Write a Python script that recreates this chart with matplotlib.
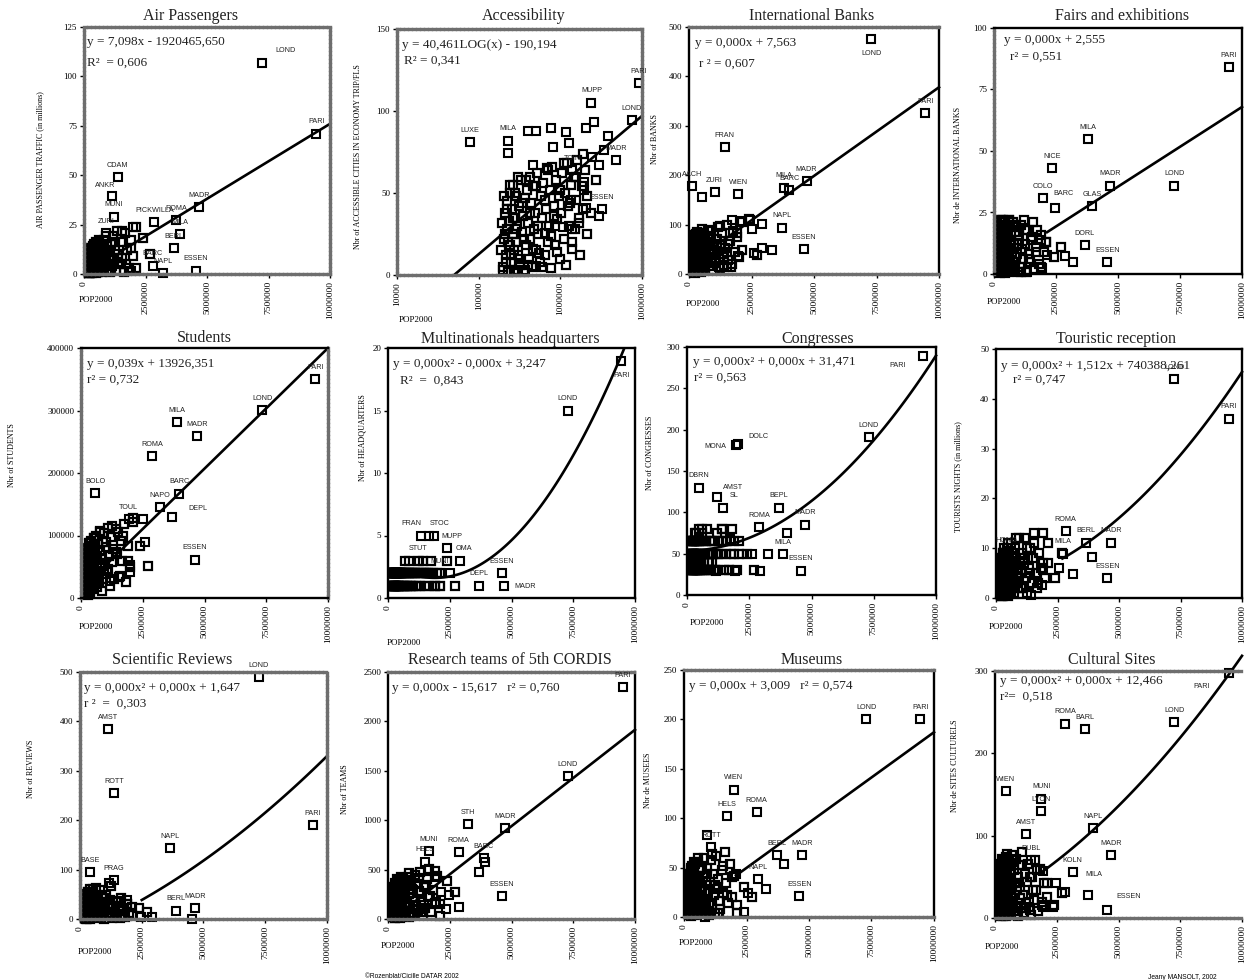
import numpy as np
import matplotlib
matplotlib.use('Agg')
import matplotlib.pyplot as plt

W, H = 1245, 980
SERIF = 'Liberation Serif'
SANS = 'Liberation Sans'

# cities without a label, population in thousands (same for every panel)
POP_K = [200, 205, 210, 215, 220, 225, 230, 235, 240, 245,
         250, 255, 260, 265, 270, 275, 280, 285, 290, 295,
         300, 310, 320, 330, 340, 350, 360, 370, 380, 390,
         400, 410, 420, 430, 440, 450, 465, 480, 495, 510,
         525, 540, 560, 580, 600, 620, 640, 660, 680, 700,
         725, 750, 775, 800, 830, 860, 890, 920, 950, 980,
         1020, 1060, 1100, 1140, 1180, 1220, 1260, 1300, 1350, 1400,
         1450, 1500, 1560, 1620, 1680, 1750, 1820, 1900, 2000, 2100,
         190, 195, 200, 205, 210, 215, 220, 230, 240, 250,
         260, 270, 280, 290, 300, 320, 340, 360, 380, 400,
         430, 460, 500, 540, 590, 640, 700, 760, 830, 900,
         1000, 1100, 1250, 1400, 1550, 1700, 1900, 2100, 2400, 2700]

AIR_Y = [1, 5, 0.5, 8, 2, 12, 3, 6, 1, 9,
         4, 0.5, 7, 2, 10, 5, 1, 13, 3, 6,
         2, 9, 0.5, 5, 11, 1, 7, 3, 14, 4,
         8, 1, 6, 12, 2, 10, 4, 0.5, 16, 7,
         3, 9, 1, 13, 5, 2, 15, 7, 11, 4,
         1, 10, 6, 17, 3, 12, 8, 2, 14, 5,
         9, 1, 15, 4, 19, 7, 12, 2, 22, 10,
         5, 16, 8, 1, 21, 12, 3, 17, 9, 24,
         3, 0.5, 6, 2, 9, 1, 4, 7, 2, 11,
         0.5, 5, 8, 3, 13, 1, 6, 10, 2, 15,
         4, 12, 7, 1, 17, 9, 3, 14, 6, 19,
         11, 2, 16, 8, 22, 5, 13, 3, 18, 10]
ACCESS_Y = [5, 22, 38, 12, 45, 28, 2, 33, 50, 18,
            8, 40, 25, 55, 15, 3, 35, 48, 20, 30,
            12, 42, 6, 58, 26, 36, 2, 47, 18, 52,
            32, 10, 60, 22, 44, 5, 54, 28, 38, 15,
            62, 25, 8, 48, 35, 56, 12, 40, 65, 20,
            30, 52, 4, 66, 42, 18, 58, 34, 48, 10,
            38, 62, 22, 50, 6, 68, 30, 44, 55, 16,
            60, 28, 46, 70, 35, 12, 54, 40, 64, 25,
            15, 32, 3, 48, 25, 8, 40, 20, 55, 12,
            35, 2, 50, 28, 60, 10, 44, 22, 58, 6,
            38, 16, 54, 30, 5, 46, 64, 24, 36, 14,
            52, 68, 42, 20, 60, 32, 74, 48, 38, 58]
BANKS_Y = [45, 20, 60, 30, 5, 70, 40, 15, 55, 35,
           25, 65, 10, 50, 80, 30, 42, 18, 58, 6,
           38, 72, 22, 48, 12, 62, 32, 78, 8, 52,
           18, 44, 66, 28, 84, 36, 14, 56, 4, 74,
           30, 60, 20, 82, 46, 10, 68, 38, 54, 24,
           64, 34, 90, 16, 50, 76, 28, 42, 8, 58,
           22, 70, 46, 96, 32, 12, 60, 84, 40, 18,
           52, 100, 28, 66, 15, 88, 44, 74, 34, 105,
           30, 55, 10, 70, 40, 20, 62, 3, 48, 78,
           15, 35, 66, 25, 85, 8, 52, 42, 72, 18,
           60, 32, 92, 12, 46, 76, 28, 58, 88, 22,
           40, 70, 98, 34, 60, 20, 82, 48, 112, 38]
FAIRS_Y = [3, 12, 1, 18, 6, 21, 2, 9, 15, 0.5,
           7, 19, 4, 13, 1, 22, 10, 16, 3, 8,
           14, 1, 20, 5, 11, 17, 2, 22, 8, 12,
           4, 16, 9, 21, 0.5, 13, 6, 19, 2, 11,
           18, 7, 1, 15, 22, 4, 10, 20, 3, 13,
           9, 21, 5, 12, 17, 2, 19, 8, 14, 1,
           16, 3, 20, 10, 6, 22, 12, 1, 18, 8,
           5, 14, 21, 2, 11, 18, 4, 16, 9, 13,
           2, 10, 16, 5, 20, 1, 13, 7, 22, 4,
           11, 18, 3, 9, 21, 6, 15, 1, 12, 19,
           8, 2, 17, 10, 22, 5, 14, 3, 20, 7,
           12, 1, 18, 6, 15, 9, 3, 13, 7, 11]
STUDENTS_Y = [25000, 40000, 10000, 55000, 30000, 65000, 18000, 48000, 35000, 72000,
              12000, 58000, 28000, 80000, 42000, 20000, 68000, 5000, 50000, 32000,
              38000, 75000, 15000, 60000, 88000, 26000, 46000, 70000, 8000, 54000,
              66000, 22000, 92000, 36000, 52000, 78000, 14000, 44000, 84000, 30000,
              56000, 96000, 24000, 72000, 40000, 100000, 18000, 62000, 86000, 34000,
              28000, 76000, 108000, 48000, 64000, 12000, 90000, 38000, 104000, 54000,
              82000, 44000, 112000, 68000, 20000, 98000, 58000, 78000, 30000, 110000,
              70000, 105000, 36000, 92000, 60000, 118000, 26000, 84000, 50000, 128000,
              20000, 50000, 8000, 36000, 62000, 15000, 45000, 28000, 70000, 10000,
              55000, 32000, 78000, 18000, 42000, 66000, 24000, 88000, 12000, 58000,
              34000, 82000, 48000, 96000, 22000, 68000, 38000, 106000, 56000, 30000,
              90000, 46000, 115000, 74000, 34000, 100000, 60000, 122000, 84000, 52000]
MULTI_Y = [2, 1, 2, 2, 1, 2, 1, 2, 2, 1,
           2, 2, 1, 2, 2, 1, 2, 2, 1, 2,
           1, 2, 2, 1, 2, 2, 2, 1, 2, 2,
           2, 1, 2, 2, 1, 2, 2, 1, 2, 2,
           1, 2, 2, 2, 1, 2, 1, 2, 2, 1,
           2, 2, 1, 2, 2, 3, 1, 2, 1, 2,
           1, 2, 2, 1, 2, 2, 3, 1, 2, 2,
           2, 1, 2, 2, 1, 3, 2, 1, 2, 1,
           2, 2, 1, 2, 1, 2, 2, 1, 2, 2,
           1, 2, 2, 1, 2, 2, 1, 2, 2, 1,
           2, 1, 2, 2, 1, 2, 3, 1, 2, 1,
           2, 2, 1, 3, 2, 2, 1, 2, 3, 1]
CONGRESS_Y = [50, 30, 65, 50, 40, 30, 50, 65, 30, 50,
              40, 50, 30, 65, 50, 30, 40, 50, 65, 30,
              50, 65, 30, 50, 40, 75, 30, 50, 65, 40,
              30, 50, 65, 40, 30, 50, 80, 30, 65, 50,
              65, 30, 50, 40, 75, 30, 65, 50, 30, 40,
              50, 65, 30, 80, 50, 40, 30, 65, 50, 30,
              40, 50, 65, 30, 50, 75, 30, 65, 50, 80,
              65, 30, 50, 65, 30, 50, 80, 65, 30, 50,
              50, 65, 30, 50, 30, 65, 40, 50, 30, 65,
              50, 30, 40, 65, 50, 30, 75, 50, 65, 30,
              40, 50, 65, 30, 80, 50, 30, 65, 50, 40,
              65, 30, 50, 80, 65, 30, 50, 65, 50, 30]
TOURIST_Y = [3, 1, 5, 2, 7, 4, 1, 6, 3, 8,
             2, 5, 0.5, 7, 3, 9, 4, 1, 6, 2,
             5, 1, 8, 3, 6, 2, 9, 4, 1, 7,
             3, 6, 1, 10, 4, 2, 8, 5, 0.5, 7,
             9, 2, 5, 1, 7, 11, 3, 6, 4, 8,
             1, 6, 10, 3, 8, 5, 2, 12, 4, 7,
             5, 9, 2, 7, 12, 4, 1, 8, 6, 10,
             3, 8, 11, 5, 2, 9, 6, 13, 4, 7,
             1, 4, 2, 6, 0.5, 8, 3, 5, 1, 7,
             2, 9, 4, 0.5, 6, 3, 10, 1, 5, 8,
             2, 7, 11, 4, 1, 9, 5, 3, 12, 6,
             2, 8, 10, 5, 13, 3, 7, 11, 4, 9]
REVIEWS_Y = [10, 30, 2, 22, 45, 5, 15, 35, 1, 25,
             18, 40, 8, 28, 3, 50, 12, 32, 20, 6,
             35, 2, 24, 55, 14, 38, 7, 27, 44, 1,
             12, 30, 60, 4, 20, 42, 9, 33, 16, 52,
             26, 5, 46, 18, 36, 2, 62, 22, 10, 40,
             8, 32, 14, 58, 24, 4, 44, 16, 35, 1,
             20, 48, 6, 30, 12, 38, 66, 3, 26, 14,
             34, 10, 22, 2, 42, 18, 5, 30, 12, 24,
             15, 2, 28, 8, 40, 20, 4, 32, 12, 48,
             6, 24, 36, 1, 18, 55, 10, 30, 44, 3,
             22, 38, 14, 60, 5, 28, 48, 9, 34, 18,
             42, 12, 26, 4, 36, 16, 30, 8, 22, 14]
TEAMS_Y = [120, 40, 250, 80, 180, 20, 300, 60, 150, 220,
           30, 200, 100, 330, 160, 10, 270, 70, 230, 130,
           280, 50, 170, 90, 350, 20, 210, 130, 310, 60,
           100, 240, 30, 380, 150, 290, 70, 200, 10, 340,
           180, 60, 310, 110, 400, 230, 40, 270, 130, 360,
           80, 330, 160, 430, 20, 250, 120, 390, 60, 300,
           210, 50, 450, 140, 350, 90, 280, 480, 170, 40,
           320, 110, 400, 220, 510, 70, 290, 160, 440, 30,
           60, 200, 20, 140, 280, 100, 30, 240, 170, 70,
           320, 10, 210, 120, 360, 50, 260, 150, 400, 90,
           30, 300, 190, 430, 80, 240, 370, 130, 470, 40,
           290, 180, 420, 100, 340, 230, 490, 150, 380, 270]
MUSEUMS_Y = [12, 30, 4, 22, 38, 8, 18, 44, 2, 27,
             34, 6, 20, 48, 14, 1, 28, 40, 10, 24,
             3, 36, 16, 52, 26, 8, 42, 20, 32, 12,
             46, 10, 30, 2, 24, 54, 16, 38, 6, 28,
             18, 42, 56, 8, 34, 22, 48, 4, 30, 14,
             26, 6, 40, 60, 16, 36, 10, 50, 24, 2,
             32, 58, 12, 44, 22, 4, 62, 28, 38, 16,
             8, 48, 24, 66, 34, 14, 54, 20, 42, 4,
             20, 6, 34, 14, 44, 2, 26, 10, 38, 18,
             50, 4, 30, 22, 46, 8, 36, 16, 56, 12,
             28, 42, 6, 60, 20, 34, 50, 10, 26, 44,
             14, 64, 32, 4, 52, 22, 40, 12, 30, 20]
SITES_Y = [30, 8, 45, 18, 60, 12, 38, 3, 52, 24,
           10, 42, 26, 66, 5, 34, 56, 16, 48, 20,
           62, 14, 36, 4, 50, 28, 70, 8, 44, 22,
           6, 54, 32, 74, 18, 40, 2, 60, 26, 12,
           46, 20, 68, 10, 36, 56, 4, 30, 76, 16,
           24, 58, 8, 42, 72, 14, 34, 50, 2, 64,
           38, 12, 80, 28, 6, 54, 18, 44, 66, 10,
           4, 50, 22, 70, 34, 8, 60, 16, 42, 26,
           16, 40, 4, 56, 24, 10, 48, 32, 66, 6,
           20, 58, 36, 12, 72, 2, 44, 26, 62, 14,
           50, 8, 78, 30, 18, 54, 38, 70, 4, 42,
           24, 64, 12, 50, 34, 58, 20, 42, 16, 30]

# named cities, x in millions of inhabitants
AIR_NAMES = ['LOND', 'PARI', 'MADR', 'CDAM', 'ANKR', 'ESSEN', 'PICKWILLA', 'ROMA', 'MILA', 'BERL', 'NAPL', '', 'BARC', '', 'MUNI', '', 'ZURI']
AIR_X = [7.25, 9.45, 4.68, 1.37, 1.15, 4.55, 2.86, 3.75, 3.9, 3.66, 3.2, 1.9, 2.8, 1, 1.2, 2, 0.9]
AIR_V = [107, 71, 33.7, 48.9, 39.4, 1.7, 26.4, 27.3, 20, 13, 0.3, 1.7, 4.2, 0.8, 29, 24, 20.5]

ACCESS_NAMES = ['PARI', 'LOND', 'MUPP', 'LUXE', 'MILA', '', '', '', '', '', '', '', '', '', '', '', 'MADR', '', '', '', 'TOIN', '', '', 'ESSEN', '', '', '', '', '', '', '', '', '', '', '']
ACCESS_X = [9.2, 7.5, 2.4, 0.079, 0.23, 0.23, 0.4, 0.51, 0.76, 1.18, 0.46, 0.81, 1.27, 2.05, 2.57, 3.8, 4.8, 2.45, 2.95, 3.4, 1.4, 1.95, 1.95, 3.2, 2.95, 2.05, 1.35, 1.07, 1.4, 0.85, 0.51, 0.37, 0.3, 0.65, 0.55]
ACCESS_V = [117, 94.3, 105, 81, 82, 74.4, 88, 88, 89.6, 87, 67, 78, 80.5, 89.6, 93, 84.5, 70, 72, 67, 76, 64, 57, 52, 40, 36, 41, 46, 29, 28, 30, 5.7, 2.8, 2.8, 25.6, 13.4]

BANKS_NAMES = ['LOND', 'PARI', 'FRAN', 'MILA', 'BARC', 'MADR', 'ESSEN', 'NAPL', '', '', '', '', '', 'WIEN', 'ZURI', 'AACH', '', '', '', '', '', '', '']
BANKS_X = [7.28, 9.45, 1.42, 3.8, 4.0, 4.7, 4.6, 3.7, 2.9, 2.5, 2.44, 2.05, 1.73, 1.97, 1.02, 0.13, 0.5, 2.9, 2.6, 1.97, 3.3, 1.5, 1.18]
BANKS_V = [476, 325, 257, 175, 170, 188, 50, 94, 101, 91, 110, 108, 110, 161, 166, 178, 155, 52, 42, 36, 48, 15, 15]

FAIRS_NAMES = ['PARI', 'MILA', 'NICE', 'COLO', 'BARC', 'MADR', 'LOND', 'GLAS', 'DORL', '', 'ESSEN', '', '', '', '', '', '']
FAIRS_X = [9.48, 3.78, 2.33, 1.98, 2.46, 4.68, 7.27, 3.97, 3.65, 3.2, 4.57, 2.86, 2.14, 1.95, 1.9, 0.63, 1.35]
FAIRS_V = [84, 54.9, 43, 30.9, 26.8, 35.9, 35.9, 27.5, 11.7, 4.7, 4.7, 7.2, 7.9, 2.4, 13.7, 20, 1]

STUDENTS_NAMES = ['PARI', 'LOND', 'MADR', 'MILA', 'ROMA', 'BOLO', 'BARC', 'NAPO', 'DEPL', 'ESSEN', 'TOUL', '', '', '', '', '']
STUDENTS_X = [9.49, 7.34, 4.71, 3.87, 2.88, 0.58, 3.97, 3.2, 3.7, 4.6, 1.93, 2.5, 2.6, 2.0, 1.98, 1.19]
STUDENTS_V = [350000, 301000, 259000, 281000, 227000, 168000, 167000, 145000, 129000, 61500, 126000, 127000, 90000, 53000, 41000, 28000]

MULTI_NAMES = ['PARI', 'LOND', 'FRAN', 'STOC', 'MUPP', 'OMA', 'STUT', 'MUNI', 'ESSEN', 'DEPL', 'MADR', '', '']
MULTI_X = [9.45, 7.27, 1.32, 1.65, 1.85, 2.4, 1.2, 2.9, 4.6, 3.67, 4.7, 2.1, 2.5]
MULTI_V = [19, 15, 5, 5, 5, 4, 3, 3, 2, 1, 1, 1, 2]

CONGRESS_NAMES = ['PARI', 'LOND', 'MONA', 'DOLC', 'DBRN', 'AMST', 'SL', 'BEPL', 'ROMA', '', 'MADR', 'MILA', '', '', '', '', 'ESSEN', '', '', '', '']
CONGRESS_X = [9.48, 7.3, 1.97, 2.05, 0.47, 1.2, 1.45, 3.68, 2.89, 4.0, 4.74, 3.87, 3.24, 2.6, 2.2, 2.92, 4.58, 1.94, 1.18, 1.74, 0.5]
CONGRESS_V = [289, 191, 181, 183, 130, 118, 105.5, 105.5, 82, 74.5, 85, 49.5, 49.5, 49.5, 49.5, 29.4, 29.4, 29.4, 29.4, 68, 68]

TOURIST_NAMES = ['LOND', 'PARI', 'ROMA', 'BERL', 'MADR', '', '', 'ESSEN', 'MILA', '', '', '', '', 'HONG']
TOURIST_X = [7.25, 9.47, 2.83, 3.65, 4.67, 3.92, 3.15, 4.53, 2.72, 2.56, 1.87, 1.41, 1.92, 0.4]
TOURIST_V = [44, 36, 13.4, 11.1, 11.1, 8.2, 4.8, 4, 8.9, 6, 2.7, 0.7, 5.6, 9.1]

REVIEWS_NAMES = ['LOND', 'AMST', 'ROTT', 'NAPL', 'PARI', 'BASE', 'PRAG', 'BERL', 'MADR', '', '', '', '', '']
REVIEWS_X = [7.24, 1.12, 1.37, 3.64, 9.42, 0.41, 1.37, 3.88, 4.66, 4.55, 2.48, 2.9, 1.16, 1.9]
REVIEWS_V = [490, 384, 255, 143, 190, 95, 79, 17, 22, 0, 5, 5, 72, 38]

TEAMS_NAMES = ['PARI', 'LOND', 'STH', 'MADR', 'ESSEN', 'ROMA', 'BARC', '', '', '', '', '', 'MUNI', 'HELS', '', '', '', '', '', '']
TEAMS_X = [9.5, 7.27, 3.22, 4.74, 4.6, 2.86, 3.88, 3.92, 3.67, 2.86, 2.35, 1.95, 1.65, 1.49, 1.9, 1.44, 0.83, 1.32, 2.15, 2.48]
TEAMS_V = [2348, 1449, 963, 919, 233, 676, 615, 581, 473, 118, 98, 176, 689, 581, 429, 142, 24, 74, 277, 243]

MUSEUMS_NAMES = ['LOND', 'PARI', 'WIEN', 'ROMA', 'HELS', 'MADR', 'ESSEN', 'BERL', '', 'ROTT', '', '', 'NAPL', '', '', '', '', '']
MUSEUMS_X = [7.29, 9.45, 1.98, 2.91, 1.73, 4.72, 4.61, 3.7, 3.98, 1.07, 0.91, 2.06, 2.96, 3.28, 2.57, 2.41, 1.34, 0.83]
MUSEUMS_V = [200, 200, 129, 106, 102, 62.5, 21, 62.5, 54, 71, 83, 44, 38, 28, 24, 5, 4, 0]

SITES_NAMES = ['PARI', 'LOND', 'ROMA', 'BARL', 'WIEN', 'MUNI', 'LYON', 'AMST', 'NAPL', 'MADR', 'DUBL', '', 'KOLN', '', 'MILA', 'ESSEN', '', '', '', '', '', '']
SITES_X = [9.47, 7.26, 2.85, 3.65, 0.43, 1.87, 1.87, 1.26, 3.97, 4.7, 1.44, 1.95, 3.14, 2.46, 3.78, 4.55, 2.82, 1.95, 2.34, 1.39, 0.83, 1.39]
SITES_V = [297, 238, 236, 229, 154, 145, 130, 102, 109, 76, 70, 57, 56, 43, 28, 10, 32, 13, 13, 13, 9, 19]

# trend lines: points read on the curve, x in millions
TREND_X = [[1.5, 10], [0.05, 10], [1, 10], [2.14, 10],
           [0.2, 10], [0.5, 2.5, 4.9, 7.4, 9.55], [0.5, 2.5, 5.14, 6.9, 10], [2.7, 4.3, 7.5, 10],
           [2.5, 4.5, 7.3, 10], [0.5, 10], [2.08, 10], [1.94, 4.05, 7.2, 9.43, 10]]
TREND_Y = [[11.5, 76], [0, 97], [55, 378], [17, 67.9],
           [21726, 400000], [2.1, 1.95, 4.4, 10.9, 20], [57, 64, 117, 171, 288], [7.9, 13.3, 28.7, 45.4],
           [35, 109, 200, 332], [62, 1915], [42, 187], [56, 110.7, 206, 297, 317]]
TREND_DEG = [1, 1, 1, 1, 1, 2, 2, 2, 2, 1, 1, 2]

TITLES = ['Air Passengers', 'Accessibility', 'International Banks', 'Fairs and exhibitions',
          'Students', 'Multinationals headquarters', 'Congresses', 'Touristic reception',
          'Scientific Reviews', 'Research teams of 5th CORDIS', 'Museums', 'Cultural Sites']
YLABELS = ['AIR PASSENGER TRAFFIC (in millions)', 'Nbr of ACCESSIBLE CITIES IN ECONOMY TRIP/FLS',
           'Nbr of BANKS', 'Nbr de INTERNATIONAL BANKS',
           'Nbr of STUDENTS', 'Nbr of HEADQUARTERS', 'Nbr of CONGRESSES', 'TOURISTS NIGHTS (in millions)',
           'Nbr of REVIEWS', 'Nbr of TEAMS', 'Nbr de MUSEES', 'Nbr de SITES CULTURELS']
EQ1 = ['y = 7,098x - 1920465,650', 'y = 40,461LOG(x) - 190,194', 'y = 0,000x + 7,563', 'y = 0,000x + 2,555',
       'y = 0,039x + 13926,351', 'y = 0,000x² - 0,000x + 3,247', 'y = 0,000x² + 0,000x + 31,471', 'y = 0,000x² + 1,512x + 740388,261',
       'y = 0,000x² + 0,000x + 1,647', 'y = 0,000x - 15,617   r² = 0,760', 'y = 0,000x + 3,009   r² = 0,574', 'y = 0,000x² + 0,000x + 12,466']
EQ2 = ['R²  = 0,606', 'R² = 0,341', 'r ² = 0,607', 'r² = 0,551',
       'r² = 0,732', 'R²  =  0,843', 'r² = 0,563', 'r² = 0,747',
       'r ²  =  0,303', '', '', 'r²=  0,518']

YTICKS = [[0, 25, 50, 75, 100, 125], [0, 50, 100, 150], [0, 100, 200, 300, 400, 500], [0, 25, 50, 75, 100],
          [0, 100000, 200000, 300000, 400000], [0, 5, 10, 15, 20], [0, 50, 100, 150, 200, 250, 300], [0, 10, 20, 30, 40, 50],
          [0, 100, 200, 300, 400, 500], [0, 500, 1000, 1500, 2000, 2500], [0, 50, 100, 150, 200, 250], [0, 100, 200, 300]]

CLUSTER_Y = [AIR_Y, ACCESS_Y, BANKS_Y, FAIRS_Y, STUDENTS_Y, MULTI_Y, CONGRESS_Y, TOURIST_Y, REVIEWS_Y, TEAMS_Y, MUSEUMS_Y, SITES_Y]
NAMES = [AIR_NAMES, ACCESS_NAMES, BANKS_NAMES, FAIRS_NAMES, STUDENTS_NAMES, MULTI_NAMES, CONGRESS_NAMES, TOURIST_NAMES, REVIEWS_NAMES, TEAMS_NAMES, MUSEUMS_NAMES, SITES_NAMES]
CITY_X = [AIR_X, ACCESS_X, BANKS_X, FAIRS_X, STUDENTS_X, MULTI_X, CONGRESS_X, TOURIST_X, REVIEWS_X, TEAMS_X, MUSEUMS_X, SITES_X]
CITY_Y = [AIR_V, ACCESS_V, BANKS_V, FAIRS_V, STUDENTS_V, MULTI_V, CONGRESS_V, TOURIST_V, REVIEWS_V, TEAMS_V, MUSEUMS_V, SITES_V]

# layout, all in pixels of the output image
RECTS = [(84, 27, 330, 274), (397, 29, 642, 275), (689, 27, 939, 274), (994, 28, 1242, 274),
         (81, 348, 328, 598), (388, 348, 635, 598), (687, 347, 936, 595), (996, 349, 1242, 598),
         (80, 672, 327, 919), (388, 672, 635, 919), (684, 670, 934, 917), (995, 671, 1242, 918)]
TITLE_POS = [(191, 16), (524, 16), (812, 16), (1122, 16),
             (204, 338), (510, 339), (818, 339), (1116, 339),
             (172, 660), (510, 660), (812, 660), (1112, 660)]
YLABEL_POS = [(40, 160), (358, 157), (655, 139), (958, 165),
              (12, 455), (362, 438), (650, 453), (958, 477),
              (31, 769), (345, 789), (648, 780), (955, 766)]
POP_POS = [(96, 300), (416, 320), (703, 304), (1004, 302),
           (96, 627), (404, 643), (707, 623), (1006, 627),
           (95, 952), (398, 946), (696, 943), (1002, 947)]
EQ1_POS = [(87, 42), (402, 45), (695, 43), (1004, 40),
           (87, 364), (393, 364), (693, 362), (1001, 366),
           (84, 688), (392, 688), (689, 686), (1000, 681)]
EQ2_POS = [(87, 63), (404, 61), (699, 64), (1010, 57),
           (87, 380), (400, 381), (694, 378), (1013, 380),
           (84, 704), (392, 704), (689, 702), (1000, 697)]
# frame per panel: left, right, top, bottom. g = dithered grey, k = black, n = none
FRAMES = ['gggg', 'gggg', 'kkgg', 'gkkk', 'ggkk', 'kkkk', 'kkkk', 'kkkk', 'gggg', 'kkgg', 'kkgg', 'kngg']
# labels that do not sit above their square
LABEL_OFFSET = {(0, 'LOND'): (17, 6), (2, 'LOND'): (0, -13), (5, 'PARI'): (0, -13), (5, 'MADR'): (15, -3),
                (5, 'OMA'): (12, -3), (5, 'FRAN'): (-7, 6), (5, 'STOC'): (8, 6), (5, 'MUPP'): (13, -3),
                (5, 'MUNI'): (-14, -3), (6, 'PARI'): (-18, -9), (6, 'MONA'): (-15, -3), (6, 'DOLC'): (15, 3),
                (6, 'AMST'): (12, 5), (6, 'SL'): (8, 6), (11, 'PARI'): (-20, -12), (11, 'ESSEN'): (15, 7),
                (0, 'ANKR'): (-5, 5), (4, 'DEPL'): (18, 4), (11, 'MILA'): (4, 12), (3, 'BARC'): (6, 8)}


def px_text(fig, x, y, s, **kw):
    return fig.text(x / W, 1 - y / H, s, **kw)


def draw_frame(ax, style):
    for side, st in zip(['left', 'right', 'top', 'bottom'], style):
        sp = ax.spines[side]
        if st == 'k':
            sp.set_color('black')
            sp.set_linewidth(1.7)
        elif st == 'g':
            sp.set_color('#6e6e6e')
            sp.set_linewidth(2.4)
            sp.set_linestyle((0, (0.6, 0.6)))
        else:
            sp.set_visible(False)


fig = plt.figure(figsize=(W / 100, H / 100), dpi=100)
pop = np.array(POP_K) * 1000.0

for i, (l, t, r, b) in enumerate(RECTS):
    ax = fig.add_axes([l / W, 1 - b / H, (r - l) / W, (b - t) / H])
    ax.plot(pop, CLUSTER_Y[i], 's', ms=5.2, mfc='none', mec='black', mew=1.6, clip_on=False)
    cx = np.array(CITY_X[i]) * 1e6
    ax.plot(cx, CITY_Y[i], 's', ms=5.2, mfc='none', mec='black', mew=1.5, clip_on=False)

    is_log = i == 1
    tx = np.array(TREND_X[i]) * 1e6
    grid = np.linspace(tx[0], tx[-1], 120)
    if is_log:
        grid = np.geomspace(tx[0], tx[-1], 120)
        coef = np.polyfit(np.log10(tx), TREND_Y[i], TREND_DEG[i])
        ax.plot(grid, np.polyval(coef, np.log10(grid)), color='black', lw=1.9, clip_on=False)
    else:
        coef = np.polyfit(tx / 1e6, TREND_Y[i], TREND_DEG[i])
        ax.plot(grid, np.polyval(coef, grid / 1e6), color='black', lw=1.9, clip_on=False)

    for name, x, y in zip(NAMES[i], cx, CITY_Y[i]):
        if name:
            off = LABEL_OFFSET.get((i, name), (0, 6))
            ax.annotate(name, (x, y), xytext=off, textcoords='offset points', ha='center', va='bottom',
                        fontsize=5.2, family=SANS, color='#222222', annotation_clip=False)

    ax.set_ylim(YTICKS[i][0], YTICKS[i][-1])
    ax.set_yticks(YTICKS[i])
    ax.set_yticklabels([str(v) for v in YTICKS[i]], family=SERIF, fontsize=6.5)
    if is_log:
        ax.set_xscale('log')
        ax.set_xlim(1e4, 1e7)
        ax.set_xticks([1e4, 1e5, 1e6, 1e7])
        ax.set_xticklabels(['10000', '100000', '1000000', '10000000'], rotation=90, family=SERIF, fontsize=6.8)
        ax.minorticks_off()
    else:
        ax.set_xlim(0, 1e7)
        ax.set_xticks([0, 2.5e6, 5e6, 7.5e6, 1e7])
        ax.set_xticklabels(['0', '2500000', '5000000', '7500000', '10000000'], rotation=90, family=SERIF, fontsize=6.8)
    ax.tick_params(axis='both', length=3, width=1, pad=2)
    draw_frame(ax, FRAMES[i])

    px_text(fig, *TITLE_POS[i], TITLES[i], ha='center', va='center', family=SERIF, fontsize=11.5, color='#222222')
    px_text(fig, *YLABEL_POS[i], YLABELS[i], ha='center', va='center', rotation=90, family=SERIF, fontsize=5.8)
    px_text(fig, *POP_POS[i], 'POP2000', ha='center', va='center', family=SERIF, fontsize=6.5)
    px_text(fig, *EQ1_POS[i], EQ1[i], ha='left', va='center', family=SERIF, fontsize=9.5, color='#222222')
    if EQ2[i]:
        px_text(fig, *EQ2_POS[i], EQ2[i], ha='left', va='center', family=SERIF, fontsize=9.5, color='#222222')

px_text(fig, 412, 976, '©Rozenblat/Cicille DATAR 2002', ha='center', va='center', family=SANS, fontsize=4.8)
px_text(fig, 1182, 977, 'Jeany MANSOLT, 2002', ha='center', va='center', family=SANS, fontsize=4.8)

fig.savefig('out.png', dpi=100)
